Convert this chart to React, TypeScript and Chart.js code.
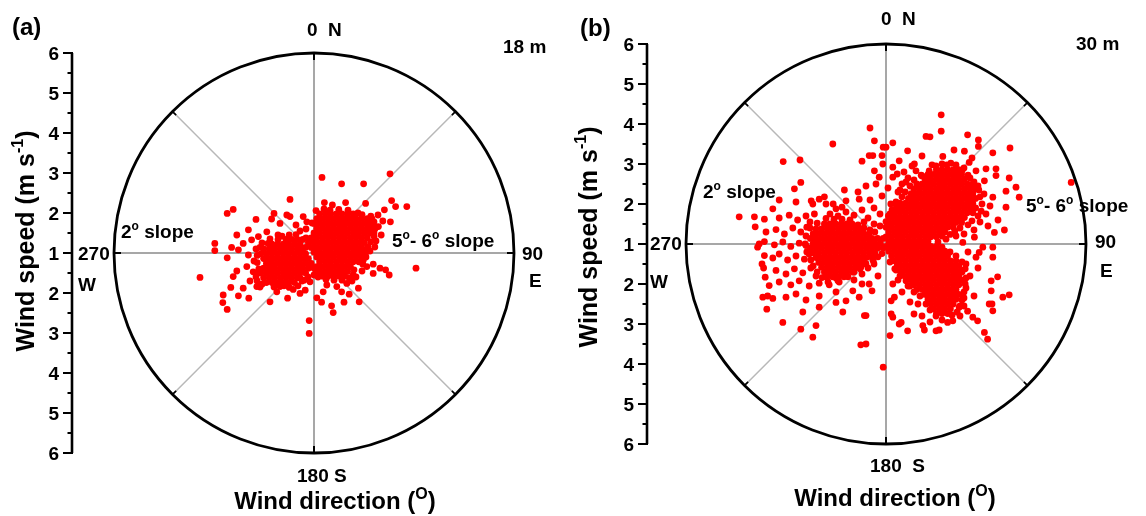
import React, { useEffect, useRef } from 'react';
import { Chart, registerables } from 'chart.js';

Chart.register(...registerables);

type P = [number, number]; // [east, north] wind components in plot units (m s-1 above the 1 m s-1 centre)
type Row = [number, number[]]; // [north, east values read along that row of a dense cluster]

// ---------------- Panel (a) 18 m ----------------
const a_coreNE: Row[] = [
  [0.98, [0.14, 0.28, 0.42, 0.56, 0.7, 0.84, 0.98]],
  [0.86, [0.07, 0.21, 0.35, 0.49, 0.63, 0.77, 0.91, 1.05, 1.19, 1.33]],
  [0.74, [0.0, 0.14, 0.28, 0.42, 0.56, 0.7, 0.84, 0.98, 1.12, 1.26, 1.4]],
  [0.62, [0.07, 0.21, 0.35, 0.49, 0.63, 0.77, 0.91, 1.05, 1.19, 1.33, 1.46]],
  [0.5, [0.0, 0.14, 0.28, 0.42, 0.56, 0.7, 0.84, 0.98, 1.12, 1.26, 1.4]],
  [0.38, [-0.07, 0.07, 0.21, 0.35, 0.49, 0.63, 0.77, 0.91, 1.05, 1.19, 1.33]],
  [0.26, [-0.14, 0.0, 0.14, 0.28, 0.42, 0.56, 0.7, 0.84, 0.98, 1.12, 1.26]],
  [0.14, [-0.21, -0.07, 0.07, 0.21, 0.35, 0.49, 0.63, 0.77, 0.91, 1.05, 1.19]],
  [0.02, [0.0, 0.14, 0.28, 0.42, 0.56, 0.7, 0.84, 0.98, 1.12]],
  [-0.1, [0.07, 0.21, 0.35, 0.49, 0.63, 0.77, 0.91, 1.05, 1.19]],
  [-0.22, [0.14, 0.28, 0.42, 0.56, 0.7, 0.84, 0.98, 1.12]],
  [-0.34, [0.07, 0.21, 0.35, 0.49, 0.63, 0.77, 0.91]],
  [-0.46, [0.14, 0.28, 0.42, 0.56, 0.7, 0.84]],
  [-0.58, [0.21, 0.35, 0.49, 0.63, 0.77]],
];

const a_coreW: Row[] = [
  [0.34, [-0.7, -0.56, -0.42, -0.28]],
  [0.22, [-1.05, -0.91, -0.77, -0.63, -0.49, -0.35]],
  [0.1, [-1.26, -1.12, -0.98, -0.84, -0.7, -0.56, -0.42, -0.28]],
  [-0.02, [-1.33, -1.19, -1.05, -0.91, -0.77, -0.63, -0.49, -0.35, -0.21]],
  [-0.14, [-1.26, -1.12, -0.98, -0.84, -0.7, -0.56, -0.42, -0.28, -0.14]],
  [-0.26, [-1.19, -1.05, -0.91, -0.77, -0.63, -0.49, -0.35, -0.21, -0.07]],
  [-0.38, [-1.26, -1.12, -0.98, -0.84, -0.7, -0.56, -0.42, -0.28, -0.14, 0.0]],
  [-0.5, [-1.33, -1.19, -1.05, -0.91, -0.77, -0.63, -0.49, -0.35, -0.21]],
  [-0.62, [-1.26, -1.12, -0.98, -0.84, -0.7, -0.56, -0.42]],
  [-0.74, [-1.19, -1.05, -0.91, -0.77, -0.63, -0.49]],
];

const a_fringe: P[] = [
  [0.05,1.06],[0.25,1.1],[0.4,1.07],[0.62,1.09],[0.85,1.07],[1.1,1.0],[1.2,0.96],[1.42,0.92],[1.5,0.78],
  [1.52,0.6],[1.5,0.42],[1.42,0.28],[1.35,0.16],[1.25,0.08],[1.28,-0.02],[1.22,-0.28],
  [1.0,-0.42],[0.98,-0.55],[0.88,-0.62],[0.7,-0.68],[0.5,-0.68],[0.3,-0.66],[0.1,-0.6],[0.05,-0.48],
  [-0.9,0.34],[-1.15,0.24],[-1.35,0.14],[-1.42,-0.06],[-1.42,-0.24],[-1.38,-0.4],[-1.45,-0.52],[-1.42,-0.7],[-1.3,-0.78],
  [-0.35,-0.62],[-0.25,-0.68],[-0.4,-0.82],[-0.62,-0.86],[-0.85,-0.84],[-0.62,0.45],[-0.45,0.46],[-0.2,0.38],[-0.12,0.3],[-0.8,0.42],
];

const a_scatter: P[] = [
  [0.2,1.89],[0.69,1.73],[1.24,1.73],[1.9,1.98],[-0.6,1.34],[0.26,1.26],[0.46,1.2],[0.79,1.26],[1.29,1.24],[1.94,1.31],
  [2.04,1.16],[2.32,1.16],[-2.02,1.09],[-2.17,0.99],[1.76,1.08],[1.91,0.78],[1.72,0.8],[1.61,0.66],[-1.0,0.99],[-1.45,0.84],
  [-1.06,0.85],[-0.68,0.95],[-0.6,0.91],[-0.27,0.91],[-0.18,0.78],[-0.85,0.74],[-1.18,0.53],[-1.64,0.58],[-1.39,0.41],[-1.93,0.45],
  [-1.56,0.33],[-1.77,0.24],[-2.06,0.14],[-2.48,0.24],[-2.48,0.06],[-2.17,-0.12],[-1.89,0.08],[-1.64,-0.05],[-2.85,-0.61],[-2.02,-0.59],
  [-1.93,-0.45],[-1.68,-0.34],[-1.52,-0.47],[2.55,-0.38],[1.48,-0.28],[1.65,-0.38],[1.79,-0.42],[1.88,-0.55],[1.48,-0.51],[1.23,-0.18],
  [1.32,-0.34],[-2.27,-1.05],[-2.28,-1.24],[-2.17,-1.41],[-2.08,-0.86],[-1.89,-1.07],[-1.63,-1.13],[-1.77,-0.88],[-1.43,-0.84],[-1.1,-1.22],
  [-0.66,-1.13],[-0.52,-0.91],[-0.35,-1.01],[-0.93,-0.97],[0.07,-1.12],[0.19,-1.23],[0.44,-1.32],[0.48,-1.49],[0.75,-1.23],[1.13,-1.22],
  [0.88,-1.03],[1.11,-0.88],[0.57,-0.84],[0.32,-0.8],[0.82,-0.76],[-0.12,-1.69],[-0.12,-2.01],[-0.1,-0.72],[-0.22,-0.93],[0.23,-0.97],
  [0.69,-0.97],[1.5,0.5],[1.55,0.3],[1.45,0.85],[1.6,0.95],[1.52,0.15],[1.4,0.05],[1.3,-0.1],[1.2,-0.45],[1.05,-0.6],
  [0.95,-0.7],[-0.35,0.55],[-0.2,0.6],[-0.45,0.7],[-0.05,0.75],[-0.9,0.45],[-1.1,0.35],[-1.3,0.25],[-1.45,0.1],[-1.5,-0.2],
  [-1.45,-0.6],[-1.6,-0.7],[-1.35,-0.85],[-1.0,-0.85],[-0.75,-0.82],[-0.15,-0.6],[0.0,-0.55],[-0.3,-0.7],[1.55,0.65],[1.68,0.45],
];

// ---------------- Panel (b) 30 m ----------------
const b_coreNE: Row[] = [
  [1.86, [1.26, 1.4, 1.54, 1.68, 1.82]],
  [1.74, [1.05, 1.19, 1.33, 1.47, 1.61, 1.75, 1.89]],
  [1.62, [0.98, 1.12, 1.26, 1.4, 1.54, 1.68, 1.82, 1.96]],
  [1.5, [0.77, 0.91, 1.05, 1.19, 1.33, 1.47, 1.61, 1.75, 1.89, 2.03, 2.17]],
  [1.38, [0.7, 0.84, 0.98, 1.12, 1.26, 1.4, 1.54, 1.68, 1.82, 1.96, 2.1, 2.24]],
  [1.26, [0.63, 0.77, 0.91, 1.05, 1.19, 1.33, 1.47, 1.61, 1.75, 1.89, 2.03, 2.17]],
  [1.14, [0.56, 0.7, 0.84, 0.98, 1.12, 1.26, 1.4, 1.54, 1.68, 1.82, 1.96, 2.1, 2.24]],
  [1.02, [0.35, 0.49, 0.63, 0.77, 0.91, 1.05, 1.19, 1.33, 1.47, 1.61, 1.75, 1.89, 2.03, 2.17]],
  [0.9, [0.28, 0.42, 0.56, 0.7, 0.84, 0.98, 1.12, 1.26, 1.4, 1.54, 1.68, 1.82, 1.96, 2.1, 2.24]],
  [0.78, [0.21, 0.35, 0.49, 0.63, 0.77, 0.91, 1.05, 1.19, 1.33, 1.47, 1.61, 1.75, 1.89, 2.03, 2.17]],
  [0.66, [0.14, 0.28, 0.42, 0.56, 0.7, 0.84, 0.98, 1.12, 1.26, 1.4, 1.54, 1.68, 1.82, 1.96]],
  [0.54, [0.07, 0.21, 0.35, 0.49, 0.63, 0.77, 0.91, 1.05, 1.19, 1.33, 1.47, 1.61, 1.75, 1.89]],
  [0.42, [0.0, 0.14, 0.28, 0.42, 0.56, 0.7, 0.84, 0.98, 1.12, 1.26, 1.4, 1.54, 1.68]],
  [0.3, [0.07, 0.21, 0.35, 0.49, 0.63, 0.77, 0.91, 1.05, 1.19, 1.33, 1.47]],
  [0.18, [0.0, 0.14, 0.28, 0.42, 0.56, 0.7, 0.84, 0.98, 1.12, 1.26]],
  [0.06, [0.07, 0.21, 0.35, 0.49, 0.63, 0.77, 0.91, 1.05]],
];

const b_coreSE: Row[] = [
  [-0.06, [0.0, 0.14, 0.28, 0.42, 0.56, 0.7, 0.84, 0.98, 1.12, 1.26]],
  [-0.18, [0.07, 0.21, 0.35, 0.49, 0.63, 0.77, 0.91, 1.05, 1.19, 1.33, 1.47]],
  [-0.3, [0.14, 0.28, 0.42, 0.56, 0.7, 0.84, 0.98, 1.12, 1.26, 1.4, 1.54]],
  [-0.42, [0.21, 0.35, 0.49, 0.63, 0.77, 0.91, 1.05, 1.19, 1.33, 1.47, 1.61, 1.75]],
  [-0.54, [0.28, 0.42, 0.56, 0.7, 0.84, 0.98, 1.12, 1.26, 1.4, 1.54, 1.68, 1.82]],
  [-0.66, [0.35, 0.49, 0.63, 0.77, 0.91, 1.05, 1.19, 1.33, 1.47, 1.61, 1.75, 1.89]],
  [-0.78, [0.42, 0.56, 0.7, 0.84, 0.98, 1.12, 1.26, 1.4, 1.54, 1.68, 1.82]],
  [-0.9, [0.63, 0.77, 0.91, 1.05, 1.19, 1.33, 1.47, 1.61, 1.75, 1.89]],
  [-1.02, [0.7, 0.84, 0.98, 1.12, 1.26, 1.4, 1.54, 1.68, 1.82]],
  [-1.14, [0.77, 0.91, 1.05, 1.19, 1.33, 1.47, 1.61, 1.75]],
  [-1.26, [0.98, 1.12, 1.26, 1.4, 1.54, 1.68, 1.82]],
  [-1.38, [1.05, 1.19, 1.33, 1.47, 1.61, 1.75]],
  [-1.5, [1.12, 1.26, 1.4, 1.54, 1.68]],
  [-1.62, [1.19, 1.33, 1.47, 1.61]],
  [-1.74, [1.26, 1.4, 1.54]],
];

const b_coreW: Row[] = [
  [0.5, [-1.54, -1.4, -1.26, -1.12, -0.98]],
  [0.38, [-1.75, -1.61, -1.47, -1.33, -1.19, -1.05, -0.91, -0.77, -0.63]],
  [0.26, [-1.82, -1.68, -1.54, -1.4, -1.26, -1.12, -0.98, -0.84, -0.7, -0.56, -0.42]],
  [0.14, [-1.89, -1.75, -1.61, -1.47, -1.33, -1.19, -1.05, -0.91, -0.77, -0.63, -0.49, -0.35, -0.21, -0.07]],
  [0.02, [-1.82, -1.68, -1.54, -1.4, -1.26, -1.12, -0.98, -0.84, -0.7, -0.56, -0.42, -0.28, -0.14]],
  [-0.1, [-1.89, -1.75, -1.61, -1.47, -1.33, -1.19, -1.05, -0.91, -0.77, -0.63, -0.49, -0.35, -0.21, -0.07]],
  [-0.22, [-1.82, -1.68, -1.54, -1.4, -1.26, -1.12, -0.98, -0.84, -0.7, -0.56, -0.42, -0.28]],
  [-0.34, [-1.75, -1.61, -1.47, -1.33, -1.19, -1.05, -0.91, -0.77, -0.63, -0.49, -0.35]],
  [-0.46, [-1.68, -1.54, -1.4, -1.26, -1.12, -0.98, -0.84, -0.7, -0.56]],
  [-0.58, [-1.61, -1.47, -1.33, -1.19, -1.05, -0.91, -0.77, -0.63]],
  [-0.7, [-1.54, -1.4, -1.26, -1.12, -0.98, -0.84]],
  [-0.82, [-1.47, -1.33, -1.19, -1.05]],
];

const b_fringe: P[] = [
  [1.15,1.98],[1.4,2.0],[1.62,2.02],[1.9,1.84],[2.05,1.72],[2.2,1.55],[2.32,1.35],[2.35,1.18],[2.38,0.82],[2.3,0.7],
  [2.15,0.58],[2.05,0.48],[1.85,0.4],[1.72,0.32],[1.6,0.24],[1.4,0.2],
  [0.88,1.72],[0.7,1.6],[0.6,1.45],[0.48,1.3],[0.4,1.18],[0.25,0.98],[0.15,0.85],[0.06,0.7],[0.0,0.56],[0.5,1.55],[0.35,1.35],
  [1.4,-0.08],[1.6,-0.2],[1.75,-0.3],[1.9,-0.45],[1.98,-0.62],[2.0,-0.85],[1.98,-1.0],[1.95,-1.2],[1.9,-1.4],[1.85,-1.55],
  [1.78,-1.7],[1.65,-1.78],[1.1,-1.65],[1.0,-1.5],[0.85,-1.3],[0.7,-1.2],[0.6,-1.05],[0.5,-0.92],[0.35,-0.8],[0.22,-0.62],[0.1,-0.45],
  [-1.72,0.52],[-1.9,0.4],[-2.0,0.2],[-2.02,0.0],[-1.98,-0.2],[-1.88,-0.4],[-1.82,-0.55],[-1.72,-0.7],[-1.6,-0.84],[-1.45,-0.95],
  [-1.2,-0.92],[-0.95,-0.82],[-0.8,-0.7],[-0.65,-0.62],[-0.5,-0.5],[-0.32,-0.42],[-0.2,-0.32],[-0.1,-0.24],[-0.85,0.5],[-0.7,0.48],
  [-0.55,0.4],[-0.4,0.35],[-0.28,0.3],[-1.3,0.62],[-1.1,0.62],[-1.5,0.64],
];

const b_scatterW: P[] = [
  [-2.67,1.1],[-2.25,1.05],[-1.87,1.08],[-1.67,1.12],[-1.5,1.0],[-1.32,1.0],[-1.0,1.08],[-0.67,1.12],
  [-3.29,0.68],[-3.04,0.62],[-2.67,0.65],[-2.42,0.72],[-2.21,0.6],[-2.0,0.7],[-1.9,0.55],[-1.79,0.75],
  [-3.27,0.43],[-3.0,0.3],[-2.75,0.36],[-2.54,0.25],[-2.33,0.4],[-2.13,0.3],[-1.98,0.42],
  [-3.17,0.0],[-3.21,-0.08],[-3.04,0.06],[-2.79,-0.02],[-2.58,0.05],[-2.38,-0.06],[-2.17,0.02],[-2.0,-0.04],
  [-3.04,-0.29],[-2.83,-0.35],[-2.67,-0.25],[-2.46,-0.4],[-2.25,-0.3],[-2.04,-0.38],[-1.92,-0.25],
  [-3.1,-0.5],[-3.06,-0.6],[-2.75,-0.66],[-2.5,-0.75],[-2.29,-0.62],[-2.08,-0.72],[-1.88,-0.6],[-1.75,-0.8],
  [-3.02,-0.83],[-2.92,-1.04],[-2.67,-0.95],[-2.38,-1.02],[-2.17,-0.92],[-1.92,-1.05],[-1.67,-0.98],[-1.42,-1.02],[-1.17,-0.95],[-0.6,-1.0],
  [-3.08,-1.33],[-2.96,-1.3],[-2.83,-1.36],[-2.5,-1.33],[-2.25,-1.25],[-2.0,-1.4],[-1.67,-1.3],[-1.25,-1.46],[-1.0,-1.42],[-0.67,-1.33],[-0.83,-1.17],[-1.25,-1.2],
  [-2.98,-1.63],[-2.08,-1.7],[-1.67,-1.58],[-1.08,-1.7],[-0.5,-1.79],
  [-2.58,-1.96],[-2.13,-2.13],[-1.75,-2.04],[-1.83,-2.33],[-0.63,-2.52],
  [-2.57,2.06],[-2.15,2.1],[-2.13,1.54],[-2.29,1.38],[-2.83,0.88],[-3.67,0.68],[-1.54,1.18],[-1.04,1.35],[-1.33,2.5],[-0.6,2.07],
  [-0.42,2.21],[-0.4,2.9],[-0.29,2.58],[-0.07,2.42],[-0.08,2.0],[-0.29,1.83],[-0.25,1.5],[-0.17,1.67],[-1.25,0.88],[-1.83,1.0],
  [-1.4,0.75],[-1.2,0.7],[-1.0,0.8],[-0.8,0.72],[-0.6,0.85],[-0.45,0.65],[-0.3,0.9],[-0.15,0.75],[-0.9,0.6],[-0.55,0.55],
  [-0.3,0.5],[-1.1,0.92],[-0.7,1.3],[-0.4,1.1],[-0.1,1.2],[-0.15,0.45],[-0.5,1.45],
  [-1.5,-0.82],[-1.25,-0.85],[-0.8,-0.9],[-0.6,-0.75],[-0.45,-0.6],[-0.3,-0.5],[-0.2,-0.8],[-0.35,-1.17],[-0.42,-1.0],[-0.54,-1.79],
  [-0.5,-2.5],[-0.07,-3.08],
];

const b_scatterE: P[] = [
  [1.38,3.23],[1.38,2.82],[1.0,2.69],[1.1,2.68],[2.04,2.73],[2.31,2.6],[2.31,2.44],[1.96,2.32],[2.67,2.28],[3.1,2.4],
  [1.42,2.19],[2.08,2.04],[0.17,2.53],[0.54,2.33],[0.33,2.08],[0.71,2.0],[0.75,1.83],[0.17,1.92],[0.17,1.67],[1.08,1.83],
  [1.25,1.95],[1.52,1.98],[2.5,1.88],[2.75,1.88],[3.08,1.65],[3.0,1.32],[3.25,1.42],[3.33,1.17],[4.63,1.54],[2.75,1.71],
  [2.46,1.58],[2.25,1.83],[3.0,0.92],[2.67,1.17],[2.71,0.29],[2.96,0.35],[2.67,-0.08],[2.67,-0.33],[2.33,-0.21],[2.25,-0.33],
  [1.92,0.04],[2.21,0.17],[2.42,-0.08],[0.0,2.42],[-0.1,2.21],[-0.33,2.21],
  [0.3,1.3],[0.4,1.5],[0.55,1.65],[0.25,1.05],[0.45,1.8],[0.9,1.7],[0.65,1.95],[1.75,1.98],[1.95,1.9],[2.1,1.65],
  [2.3,1.45],[2.45,1.25],[2.4,1.0],[2.5,0.75],[2.35,0.55],[2.2,0.35],[1.95,0.25],[1.75,0.2],[1.5,0.12],[1.3,0.05],
  [0.1,0.75],[0.12,1.0],[0.05,1.4],[0.28,1.75],[2.15,2.15],[1.7,2.35],[0.9,2.2],[2.6,0.95],[2.8,0.6],[2.55,0.45],
  [2.63,-0.92],[2.63,-1.17],[2.58,-1.5],[2.92,-1.33],[3.08,-1.27],[2.46,-2.21],[2.54,-2.38],[2.29,-1.92],[2.17,-1.83],[2.04,-1.68],
  [1.83,-1.58],[1.25,-2.17],[1.33,-2.15],[0.96,-2.15],[0.92,-2.04],[0.54,-2.17],[0.33,-2.0],[0.17,-1.83],[0.13,-1.75],[0.1,-2.29],
  [1.54,-1.96],[1.67,-1.92],[0.17,-1.0],[0.13,-1.42],[0.21,-1.33],[0.38,-1.96],[2.79,-0.82],[2.65,-1.5],[2.67,-1.67],
  [2.0,-0.5],[2.1,-0.8],[2.0,-1.1],[2.2,-1.3],[1.95,-1.35],[2.05,-0.2],[1.9,-0.7],[2.3,-0.6],[0.3,-0.9],[0.4,-1.2],
  [0.55,-1.05],[0.6,-1.45],[0.8,-1.5],[0.7,-1.75],[0.9,-1.8],[1.1,-1.95],[1.25,-1.8],[1.4,-1.9],[1.85,-1.8],[1.95,-1.55],
  [0.25,-0.65],[0.5,-0.85],
];

// ---------------- Axis values ----------------
const RADIAL_SPAN = 5; // plot units from centre to rim
const speedTickLabels = ['6', '5', '4', '3', '2', '1', '2', '3', '4', '5', '6']; // top to bottom
const spokeAngles = [0, 45, 90, 135, 180, 225, 270, 315];

const FONT = '"Liberation Sans", Arial, Helvetica, sans-serif';
const LABEL = 19;

const fromRows = (rows: Row[]): P[] => rows.flatMap(([n, es]) => es.map((e) => [e, n] as P));

type Seg = { t: string; sup?: boolean };
type Label = { segs: Seg[]; x: number; y: number; size: number; align?: 'left' | 'center'; rotate?: boolean };

interface PanelCfg {
  left: number;
  padding: { left: number; right: number; top: number; bottom: number };
  axisX: number;
  points: P[];
  labels: Label[];
}

const W = 573;
const H = 516;

const panelA: PanelCfg = {
  left: 0,
  padding: { left: 114, right: 59, top: 53, bottom: 63 },
  axisX: 72,
  points: [...fromRows(a_coreNE), ...fromRows(a_coreW), ...a_fringe, ...a_scatter],
  labels: [
    { segs: [{ t: '(a)' }], x: 12, y: 26, size: 24 },
    { segs: [{ t: '0  N' }], x: 307, y: 29, size: LABEL },
    { segs: [{ t: '18 m' }], x: 503, y: 46, size: LABEL },
    { segs: [{ t: '270' }], x: 78, y: 253, size: LABEL },
    { segs: [{ t: 'W' }], x: 78, y: 284, size: LABEL },
    { segs: [{ t: '90' }], x: 522, y: 253, size: LABEL },
    { segs: [{ t: 'E' }], x: 529, y: 280, size: LABEL },
    { segs: [{ t: '180 S' }], x: 297, y: 475, size: LABEL },
    { segs: [{ t: '2' }, { t: 'o', sup: true }, { t: ' slope' }], x: 121, y: 231, size: LABEL },
    { segs: [{ t: '5' }, { t: 'o', sup: true }, { t: '- 6' }, { t: 'o', sup: true }, { t: ' slope' }], x: 392, y: 240, size: LABEL },
    { segs: [{ t: 'Wind direction (' }, { t: 'O', sup: true }, { t: ')' }], x: 335, y: 500, size: 24, align: 'center' },
    { segs: [{ t: 'Wind speed (m s' }, { t: '-1', sup: true }, { t: ')' }], x: 25, y: 241, size: 25, align: 'center', rotate: true },
  ],
};

const panelB: PanelCfg = {
  left: 573,
  padding: { left: 113, right: 60, top: 44, bottom: 72 },
  axisX: 74,
  points: [...fromRows(b_coreNE), ...fromRows(b_coreSE), ...fromRows(b_coreW), ...b_fringe, ...b_scatterW, ...b_scatterE],
  labels: [
    { segs: [{ t: '(b)' }], x: 7, y: 27, size: 24 },
    { segs: [{ t: '0  N' }], x: 308, y: 18, size: LABEL },
    { segs: [{ t: '30 m' }], x: 503, y: 43, size: LABEL },
    { segs: [{ t: '270' }], x: 77, y: 243, size: LABEL },
    { segs: [{ t: 'W' }], x: 77, y: 281, size: LABEL },
    { segs: [{ t: '90' }], x: 522, y: 241, size: LABEL },
    { segs: [{ t: 'E' }], x: 527, y: 270, size: LABEL },
    { segs: [{ t: '180  S' }], x: 297, y: 465, size: LABEL },
    { segs: [{ t: '2' }, { t: 'o', sup: true }, { t: ' slope' }], x: 130, y: 191, size: LABEL },
    { segs: [{ t: '5' }, { t: 'o', sup: true }, { t: '- 6' }, { t: 'o', sup: true }, { t: ' slope' }], x: 453, y: 205, size: LABEL },
    { segs: [{ t: 'Wind direction (' }, { t: 'O', sup: true }, { t: ')' }], x: 322, y: 497, size: 24, align: 'center' },
    { segs: [{ t: 'Wind speed (m s' }, { t: '-1', sup: true }, { t: ')' }], x: 15, y: 237, size: 25, align: 'center', rotate: true },
  ],
};

function drawRich(ctx: CanvasRenderingContext2D, segs: Seg[], x: number, yMid: number, size: number, align: 'left' | 'center') {
  const supSize = Math.round(size * 0.65);
  const widths = segs.map((s) => {
    ctx.font = `bold ${s.sup ? supSize : size}px ${FONT}`;
    return ctx.measureText(s.t).width;
  });
  const total = widths.reduce((a, b) => a + b, 0);
  let px = align === 'center' ? x - total / 2 : x;
  const baseline = yMid + (size * 0.716) / 2;
  ctx.textBaseline = 'alphabetic';
  ctx.textAlign = 'left';
  ctx.fillStyle = '#000';
  segs.forEach((s, i) => {
    ctx.font = `bold ${s.sup ? supSize : size}px ${FONT}`;
    ctx.fillText(s.t, px, s.sup ? baseline - size * 0.42 : baseline);
    px += widths[i];
  });
}

function makeDecor(cfg: PanelCfg) {
  return {
    id: 'polarDecor',
    beforeDatasetsDraw(chart: any) {
      const ctx: CanvasRenderingContext2D = chart.ctx;
      const xs = chart.scales.x;
      const ys = chart.scales.y;
      const cx = xs.getPixelForValue(0);
      const cy = ys.getPixelForValue(0);
      const R = xs.getPixelForValue(RADIAL_SPAN) - cx;
      ctx.save();
      spokeAngles.forEach((deg) => {
        const a = (deg * Math.PI) / 180;
        const cardinal = deg % 90 === 0;
        ctx.strokeStyle = cardinal ? '#8a8a8a' : '#b8b8b8';
        ctx.lineWidth = 1.5;
        ctx.beginPath();
        ctx.moveTo(cx, cy);
        ctx.lineTo(cx + R * Math.sin(a), cy - R * Math.cos(a));
        ctx.stroke();
      });
      ctx.restore();
    },
    afterDatasetsDraw(chart: any) {
      const ctx: CanvasRenderingContext2D = chart.ctx;
      const xs = chart.scales.x;
      const ys = chart.scales.y;
      const cx = xs.getPixelForValue(0);
      const cy = ys.getPixelForValue(0);
      const R = xs.getPixelForValue(RADIAL_SPAN) - cx;
      ctx.save();
      ctx.strokeStyle = '#000';
      ctx.lineWidth = 2.8;
      ctx.beginPath();
      ctx.arc(cx, cy, R, 0, Math.PI * 2);
      ctx.stroke();
      spokeAngles.forEach((deg) => {
        const a = (deg * Math.PI) / 180;
        const cardinal = deg % 90 === 0;
        const len = cardinal ? 7 : 5;
        ctx.lineWidth = cardinal ? 2 : 1.6;
        ctx.beginPath();
        ctx.moveTo(cx + R * Math.sin(a), cy - R * Math.cos(a));
        ctx.lineTo(cx + (R - len) * Math.sin(a), cy - (R - len) * Math.cos(a));
        ctx.stroke();
      });
      const top = ys.getPixelForValue(RADIAL_SPAN);
      const bot = ys.getPixelForValue(-RADIAL_SPAN);
      ctx.lineWidth = 2.6;
      ctx.beginPath();
      ctx.moveTo(cfg.axisX, top);
      ctx.lineTo(cfg.axisX, bot);
      ctx.stroke();
      for (let i = 0; i <= RADIAL_SPAN * 4; i++) {
        const v = RADIAL_SPAN - i / 2;
        const y = ys.getPixelForValue(v);
        const major = i % 2 === 0;
        ctx.lineWidth = 2;
        ctx.beginPath();
        ctx.moveTo(cfg.axisX + 1, y);
        ctx.lineTo(cfg.axisX - (major ? 9 : 4.5), y);
        ctx.stroke();
        if (major) {
          ctx.font = `bold ${LABEL}px ${FONT}`;
          ctx.textAlign = 'right';
          ctx.textBaseline = 'alphabetic';
          ctx.fillStyle = '#000';
          ctx.fillText(speedTickLabels[i / 2], cfg.axisX - 13, y + (LABEL * 0.716) / 2);
        }
      }
      cfg.labels.forEach((l) => {
        if (l.rotate) {
          ctx.save();
          ctx.translate(l.x, l.y);
          ctx.rotate(-Math.PI / 2);
          drawRich(ctx, l.segs, 0, 0, l.size, l.align || 'left');
          ctx.restore();
        } else {
          drawRich(ctx, l.segs, l.x, l.y, l.size, l.align || 'left');
        }
      });
      ctx.restore();
    },
  };
}

function Panel({ cfg }: { cfg: PanelCfg }) {
  const ref = useRef<HTMLCanvasElement>(null);
  useEffect(() => {
    if (!ref.current) return;
    const chart = new Chart(ref.current, {
      type: 'scatter',
      data: {
        datasets: [
          {
            data: cfg.points.map(([e, n]) => ({ x: e, y: n })),
            backgroundColor: '#ff0000',
            borderWidth: 0,
            pointRadius: 3.4,
            pointHoverRadius: 3.4,
          },
        ],
      },
      options: {
        responsive: false,
        animation: false,
        events: [],
        layout: { padding: cfg.padding },
        plugins: { legend: { display: false }, tooltip: { enabled: false } },
        scales: {
          x: { type: 'linear', min: -RADIAL_SPAN, max: RADIAL_SPAN, display: false },
          y: { type: 'linear', min: -RADIAL_SPAN, max: RADIAL_SPAN, display: false },
        },
      },
      plugins: [makeDecor(cfg)],
    } as any);
    return () => chart.destroy();
  }, [cfg]);
  return (
    <canvas
      ref={ref}
      width={W}
      height={H}
      style={{ position: 'absolute', left: cfg.left, top: 0, width: W, height: H }}
    />
  );
}

export default function App() {
  return (
    <div style={{ position: 'fixed', left: 0, top: 0, width: 1146, height: 516, background: '#fff' }}>
      <Panel cfg={panelA} />
      <Panel cfg={panelB} />
    </div>
  );
}
